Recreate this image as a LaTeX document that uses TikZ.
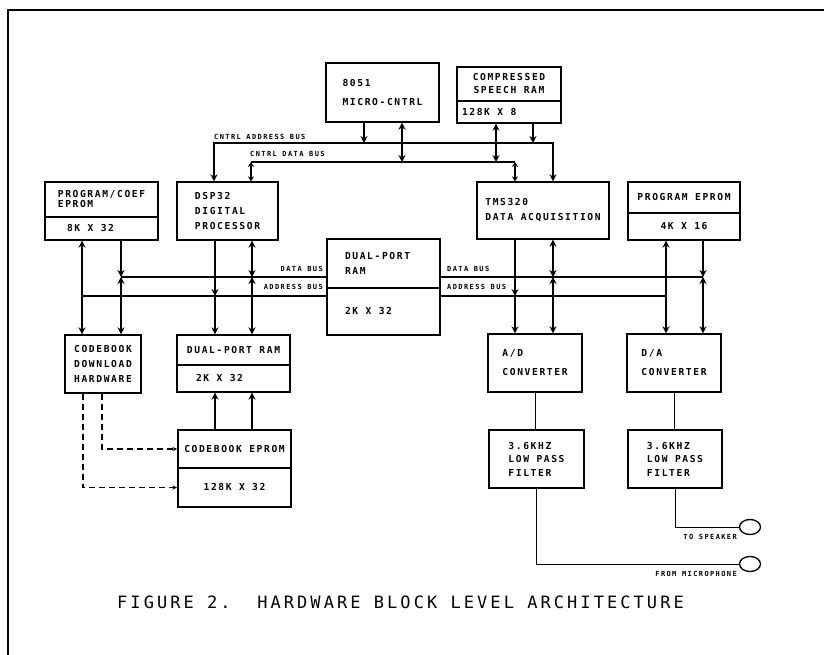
\documentclass[tikz,border=0pt]{standalone}
\usepackage{fontspec}
\newfontfamily\plotfont{DejaVu Sans Mono}[LetterSpace=17]
\newfontfamily\busfont{DejaVu Sans Mono}[LetterSpace=20]
\newfontfamily\capfont{DejaVu Sans Mono}[LetterSpace=18]
\usetikzlibrary{arrows.meta,shapes.geometric}

\begin{document}
\begin{tikzpicture}[x=1pt,y=-1pt,
  blk/.style={draw,line width=1.3pt,align=flush left,inner sep=0pt,
    font=\plotfont\fontsize{9.6}{12}\selectfont\bfseries,
    execute at begin node={\spaceskip=0pt\xspaceskip=0pt\relax}},
  lbl/.style={inner sep=0pt,font=\busfont\fontsize{7}{8}\selectfont\bfseries},
  figcap/.style={inner sep=0pt,font=\capfont\fontsize{17}{20}\selectfont},
  jack/.style={draw,ellipse,line width=1.3pt,minimum width=21pt,minimum height=15pt,inner sep=0pt},
  bus/.style={line width=2pt},
  arr/.style={-{Stealth[length=7pt,width=7pt]},line width=1.8pt},
  darr/.style={{Stealth[length=7pt,width=7pt]}-{Stealth[length=7pt,width=7pt]},line width=1.8pt},
  sdarr/.style={{Stealth[length=5pt,width=6pt]}-{Stealth[length=5pt,width=6pt]},line width=1.8pt},
  wire/.style={line width=1pt},
  dsh/.style={-{Stealth[length=5pt,width=4pt]},line width=1.2pt,dash pattern=on 6pt off 4pt}]
\useasboundingbox (0,0) rectangle (824,655);
\draw[line width=2pt] (8,655) -- (8,10) -- (824,10);

% top row
\node[blk,minimum width=113pt,minimum height=59pt] (mc) at (382.5,92.5) {8051\\[7pt]MICRO-CNTRL};
\node[blk,minimum width=104pt,minimum height=34pt,align=center] (csr) at (509,84) {COMPRESSED\\[1pt]SPEECH RAM};
\node[blk,minimum width=104pt,minimum height=22pt,text width=94pt] (csr-b) at (509,112) {128K X 8};

% processors and eproms
\node[blk,minimum width=113pt,minimum height=35pt] (pce) at (101.5,199.5) {PROGRAM/COEF\\[-2pt]EPROM};
\node[blk,minimum width=113pt,minimum height=23pt,text width=69pt] (pce-b) at (101.5,228.5) {8K X 32};
\node[blk,minimum width=101pt,minimum height=58pt] (dsp) at (227.5,211) {DSP32\\[3pt]DIGITAL\\[3pt]PROCESSOR};
\node[blk,minimum width=132pt,minimum height=57pt] (tms) at (543,210.5) {TMS320\\[3pt]DATA ACQUISITION};
\node[blk,minimum width=112pt,minimum height=31pt,align=center] (pe) at (684,197.5) {PROGRAM EPROM};
\node[blk,minimum width=112pt,minimum height=27pt,align=center] (pe-b) at (684,226.5) {4K X 16};
\node[blk,minimum width=113pt,minimum height=49pt,text width=77pt] (dpr) at (383.5,263.5) {DUAL-PORT\\[3pt]RAM};
\node[blk,minimum width=113pt,minimum height=47pt,text width=77pt] (dpr-b) at (383.5,311.5) {2K X 32};

% lower row
\node[blk,minimum width=76pt,minimum height=58pt] (cdh) at (103,364) {CODEBOOK\\[3pt]DOWNLOAD\\[3pt]HARDWARE};
\node[blk,minimum width=113pt,minimum height=30pt] (dpl) at (233.5,350) {DUAL-PORT RAM};
\node[blk,minimum width=113pt,minimum height=27pt,text width=75pt] (dpl-b) at (233.5,378.5) {2K X 32};
\node[blk,minimum width=94pt,minimum height=58pt] (ad) at (535,363) {A/D\\[7pt]CONVERTER};
\node[blk,minimum width=94pt,minimum height=58pt] (da) at (674,363) {D/A\\[7pt]CONVERTER};
\node[blk,minimum width=113pt,minimum height=38pt,align=center] (cbe) at (234.5,449) {CODEBOOK EPROM};
\node[blk,minimum width=113pt,minimum height=39pt,align=center] (cbe-b) at (234.5,487.5) {128K X 32};
\node[blk,minimum width=95pt,minimum height=58pt] (lpf1) at (536.5,459) {3.6KHZ\\[1.5pt]LOW PASS\\[1.5pt]FILTER};
\node[blk,minimum width=94pt,minimum height=58pt] (lpf2) at (675,459) {3.6KHZ\\[1.5pt]LOW PASS\\[1.5pt]FILTER};
\node[jack] (spk) at (750,527) {};
\node[jack] (mic) at (750,564) {};

% bus ends
\coordinate (cab-l) at (214,143); \coordinate (cab-r) at (553,143);
\coordinate (cdb-l) at (251,162); \coordinate (cdb-r) at (515,162);
\coordinate (db-l) at (121,277);  \coordinate (db-r) at (703,277);
\coordinate (ab-l) at (82,296);   \coordinate (ab-r) at (666,296);

% labels
\node[lbl,anchor=base west] (cab-t) at (214,140) {CNTRL ADDRESS BUS};
\node[lbl,anchor=base west] (cdb-t) at (250,157) {CNTRL DATA BUS};
\node[lbl,anchor=base east] (db-lt) at (323,271) {DATA BUS};
\node[lbl,anchor=base east] (ab-lt) at (323,289) {ADDRESS BUS};
\node[lbl,anchor=base west] (db-rt) at (447,271) {DATA BUS};
\node[lbl,anchor=base west] (ab-rt) at (447,289) {ADDRESS BUS};
\node[lbl,anchor=base east] (spk-t) at (737,539) {TO SPEAKER};
\node[lbl,anchor=base east] (mic-t) at (737,576) {FROM MICROPHONE};
\node[figcap,anchor=base west] (fig) at (117,608) {FIGURE 2.\ \ HARDWARE BLOCK LEVEL ARCHITECTURE};

% control buses
\draw[darr] (cab-l |- dsp.north) -- (cab-l) -- (cab-r) -- (cab-r |- tms.north);
\draw[bus] (cdb-l) -- (cdb-r);
\draw[sdarr] (cdb-l) -- (cdb-l |- dsp.north);
\draw[sdarr] (cdb-r) -- (cdb-r |- tms.north);
\draw[arr] (mc.south -| 364,0) -- (cab-l -| 364,0);
\draw[darr] (mc.south -| 402,0) -- (cdb-l -| 402,0);
\draw[darr] (csr-b.south -| 496,0) -- (cdb-l -| 496,0);
\draw[arr] (csr-b.south -| 533,0) -- (cab-l -| 533,0);

% data and address buses
\draw[bus] (db-l) -- (db-l -| dpr.west);
\draw[bus] (ab-l) -- (ab-l -| dpr.west);
\draw[bus] (db-r -| dpr.east) -- (db-r);
\draw[bus] (ab-r -| dpr.east) -- (ab-r);

\draw[darr] (pce-b.south -| ab-l) -- (cdh.north -| ab-l);
\draw[arr] (pce-b.south -| db-l) -- (db-l);
\draw[darr] (db-l) -- (cdh.north -| db-l);

\draw[arr] (dsp.south -| 215,0) -- (ab-l -| 215,0);
\draw[arr] (ab-l -| 215,0) -- (dpl.north -| 215,0);
\draw[darr] (dsp.south -| 252,0) -- (db-l -| 252,0);
\draw[darr] (db-l -| 252,0) -- (dpl.north -| 252,0);

\draw[arr] (tms.south -| 515,0) -- (ab-r -| 515,0);
\draw[arr] (ab-r -| 515,0) -- (ad.north -| 515,0);
\draw[darr] (tms.south -| 553,0) -- (db-r -| 553,0);
\draw[darr] (db-r -| 553,0) -- (ad.north -| 553,0);

\draw[arr] (ab-r) -- (pe-b.south -| ab-r);
\draw[arr] (ab-r) -- (da.north -| ab-r);
\draw[arr] (pe-b.south -| db-r) -- (db-r);
\draw[darr] (db-r) -- (da.north -| db-r);

% codebook path
\draw[arr] (cbe.north -| 215,0) -- (dpl-b.south -| 215,0);
\draw[arr] (cbe.north -| 252,0) -- (dpl-b.south -| 252,0);
\draw[dsh] (cdh.south -| 102,0) |- (cbe.west);
\draw[dsh] (cdh.south -| 83,0) |- (cbe-b.west);

% analog side
\draw[wire] (ad.south) -- (ad.south |- lpf1.north);
\draw[wire] (da.south) -- (da.south |- lpf2.north);
\draw[wire] (lpf2.south) |- (spk.west);
\draw[wire] (lpf1.south) |- (mic.west);
\end{tikzpicture}
\end{document}
